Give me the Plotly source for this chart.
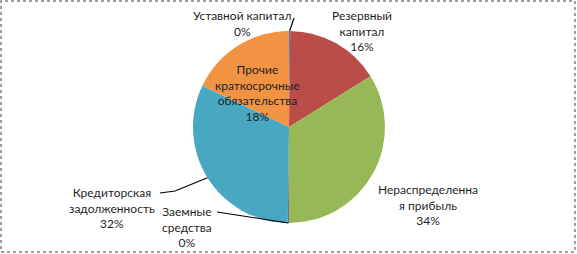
import math
import plotly.graph_objects as go

# ---- data ----
categories = ["Уставной капитал", "Резервный капитал", "Нераспределенная прибыль",
              "Заемные средства", "Кредиторская задолженность",
              "Прочие краткосрочные обязательства"]
label_lines = ["Уставной капитал", "Резервный<br>капитал", "Нераспределенна<br>я прибыль",
               "Заемные<br>средства", "Кредиторская<br>задолженность",
               "Прочие<br>краткосрочные<br>обязательства"]
values = [0.2, 16, 34, 0.2, 32, 18]
colors = ["#4F81BD", "#BA4C49", "#97B856", "#8064A2", "#48A8C2", "#F29344"]

W, H = 577, 254
CX, CY, R = 289, 127, 96  # pie centre / radius in pixels

# label centre positions (pixels)
label_pos = [(242, 23), (362, 31), (428, 205), (187, 227), (112, 208), (257, 93)]
leader_from = [(294, 18), None, None, (217, 212), (160, 193), None]
leader_knee = [None, None, None, None, (175, 191), None]


def px(x):
    return x / W


def py(y):
    return 1 - y / H


fig = go.Figure(go.Pie(
    labels=categories,
    values=values,
    sort=False,
    direction="clockwise",
    rotation=0,
    marker=dict(colors=colors, line=dict(width=0)),
    textinfo="none",
    hoverinfo="label+percent",
    domain=dict(x=[px(CX - R), px(CX + R)], y=[py(CY + R), py(CY - R)]),
    showlegend=False,
))

total = sum(values)
cum = 0.0
shapes = []
annotations = []
for i, v in enumerate(values):
    mid = (cum + v / 2) / total * 2 * math.pi
    cum += v
    pct = round(v / total * 100)
    lx, ly = label_pos[i]
    annotations.append(dict(
        x=px(lx), y=py(ly), xref="paper", yref="paper",
        text=f"{label_lines[i]}<br>{pct}%", showarrow=False,
        align="center", xanchor="center", yanchor="middle",
        font=dict(family="Lato", size=12, color="#1f1f1f"),
    ))
    if leader_from[i] is not None:
        ex = CX + R * math.sin(mid)
        ey = CY - R * math.cos(mid)
        pts = [leader_from[i]]
        if leader_knee[i] is not None:
            pts.append(leader_knee[i])
        pts.append((ex, ey))
        path = "M " + " L ".join(f"{px(a):.5f},{py(b):.5f}" for a, b in pts)
        shapes.append(dict(type="path", path=path, xref="paper", yref="paper",
                           line=dict(color="#000000", width=1.2)))

# outer dotted frame
shapes.append(dict(type="rect", xref="paper", yref="paper",
                   x0=px(1), x1=px(575), y0=py(252), y1=py(1),
                   line=dict(color="#7f7f7f", width=1.5, dash="dot")))

fig.update_layout(
    width=W, height=H,
    margin=dict(l=0, r=0, t=0, b=0),
    paper_bgcolor="white",
    plot_bgcolor="white",
    shapes=shapes,
    annotations=annotations,
)

fig.write_html("out.html")
